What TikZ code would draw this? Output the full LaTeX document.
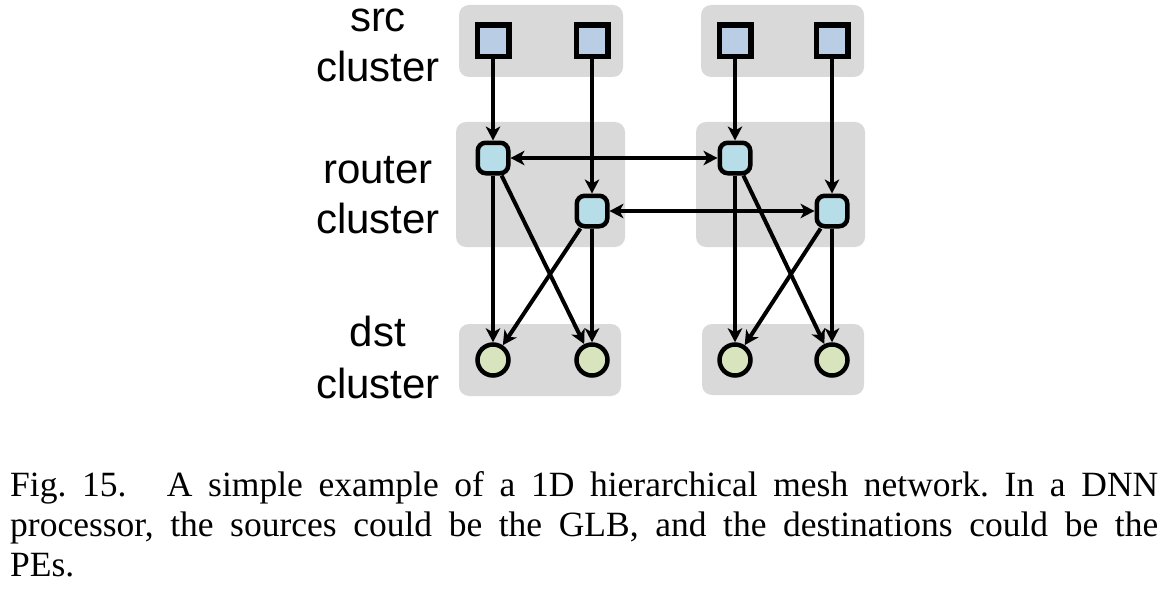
\documentclass[tikz,border=0pt]{standalone}
\usepackage{fontspec}
\setmainfont{Liberation Serif}
\newfontfamily\labfont{Liberation Sans}
\usetikzlibrary{arrows.meta}
\definecolor{clgray}{HTML}{D9D9D9}
\definecolor{srcblue}{HTML}{B9CDE5}
\definecolor{rtblue}{HTML}{B7DEE8}
\definecolor{dstgreen}{HTML}{D7E4BD}
\begin{document}
\begin{tikzpicture}[x=1pt,y=-1pt,
  cluster/.style={fill=clgray, draw=none, rounded corners=10pt, inner sep=0pt},
  srcnode/.style={draw=black, line width=5.5pt, fill=srcblue, minimum size=31.5pt, inner sep=0pt},
  rtnode/.style={draw=black, line width=4.5pt, fill=rtblue, minimum size=30.5pt, rounded corners=8pt, inner sep=0pt},
  dstnode/.style={circle, draw=black, line width=4.5pt, fill=dstgreen, minimum size=31pt, inner sep=0pt},
  lab/.style={font=\labfont\fontsize{42}{51}\selectfont, anchor=base, inner sep=0pt},
  tip/.tip={Stealth[length=14pt,width=14.5pt,inset=4pt]},
  conn/.style={draw=black, line width=4pt, -tip},
  dconn/.style={draw=black, line width=4pt, tip-tip}
]
\useasboundingbox (0,0) rectangle (1166,591);
\fill[white] (0,0) rectangle (1166,591);

% clusters
\node[cluster, minimum width=164pt, minimum height=72pt] (csL) at (541,41) {};
\node[cluster, minimum width=163pt, minimum height=72pt] (csR) at (782.5,41) {};
\node[cluster, minimum width=169pt, minimum height=125pt] (crL) at (540.5,184.5) {};
\node[cluster, minimum width=169pt, minimum height=125pt] (crR) at (780.5,184.5) {};
\node[cluster, minimum width=162pt, minimum height=72pt] (cdL) at (540,360) {};
\node[cluster, minimum width=162pt, minimum height=71pt] (cdR) at (783,359.5) {};

% labels
\node[lab] (l1a) at (378,31.7) {src};
\node[lab] (l1b) at (378,81.7) {cluster};
\node[lab] (l2a) at (378,183) {router};
\node[lab] (l2b) at (378,233) {cluster};
\node[lab] (l3a) at (378,346.7) {dst};
\node[lab] (l3b) at (378,398) {cluster};

% nodes
\node[srcnode] (s1) at (493,41) {};
\node[srcnode] (s2) at (592,41) {};
\node[srcnode] (s3) at (735,41) {};
\node[srcnode] (s4) at (832,41) {};

\node[rtnode] (r1) at (493,158) {};
\node[rtnode] (r2) at (592,211) {};
\node[rtnode] (r3) at (735,158) {};
\node[rtnode] (r4) at (832,211) {};

\node[dstnode] (d1) at (493,360) {};
\node[dstnode] (d2) at (592,360) {};
\node[dstnode] (d3) at (735,360) {};
\node[dstnode] (d4) at (832,360) {};

% connectors
\path[conn] (s1) -- (r1);
\path[conn] (s2) -- (r2);
\path[conn] (s3) -- (r3);
\path[conn] (s4) -- (r4);

\path[dconn] (r1) -- (r3);
\path[dconn] (r2) -- (r4);

\path[conn] (r1) -- (d1);
\path[conn] (r1) -- (d2);
\path[conn] (r2) -- (d2);
\path[conn] (r2) -- (d1);
\path[conn] (r3) -- (d3);
\path[conn] (r3) -- (d4);
\path[conn] (r4) -- (d4);
\path[conn] (r4) -- (d3);

% caption
\node[anchor=base west, inner sep=0pt] (cap) at (10,496.7) {\parbox[t]{1148pt}{\fontsize{35.5}{40}\selectfont\frenchspacing\hyphenpenalty=10000 Fig. 15.\hspace{0.7em} A simple example of a 1D hierarchical mesh network. In a DNN\linebreak processor, the sources could be the GLB, and the destinations could be the\linebreak PEs.}};
\end{tikzpicture}
\end{document}
